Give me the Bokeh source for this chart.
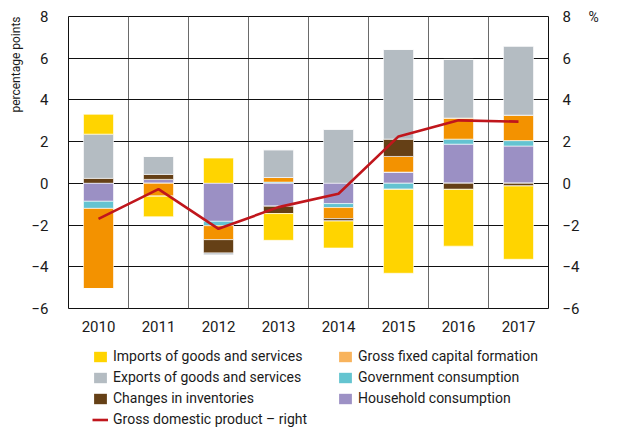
import numpy as np
from bokeh.plotting import figure
from bokeh.layouts import column
from bokeh.models import (ColumnDataSource, Range1d, LinearAxis, FixedTicker,
                          Legend, LegendItem, Title)
from bokeh.embed import file_html
from bokeh.resources import INLINE

# ---------------- data ----------------
years = [2010, 2011, 2012, 2013, 2014, 2015, 2016, 2017]
year_labels = ["2010", "2011", "2012", "2013", "2014", "2015", "2016", "2017"]

household = [-0.86, 0.19, -1.82, -1.10, -0.97, 0.54, 1.88, 1.79]
government = [-0.34, 0.00, -0.21, 0.06, -0.19, -0.29, 0.24, 0.26]
gfcf = [-3.85, -0.62, -0.67, 0.22, -0.53, 0.75, 1.01, 1.22]
inventories = [0.24, 0.24, -0.64, -0.35, -0.12, 0.83, -0.29, -0.13]
exports = [2.12, 0.86, -0.10, 1.33, 2.59, 4.30, 2.81, 3.31]
imports = [0.95, -0.98, 1.21, -1.28, -1.29, -4.02, -2.72, -3.51]
gdp = [-1.70, -0.28, -2.18, -1.14, -0.50, 2.25, 3.02, 2.96]

y_ticks = [-6, -4, -2, 0, 2, 4, 6, 8]
y_tick_labels = ["\u22126", "\u22124", "\u22122", "0", "2", "4", "6", "8"]

series_keys = ["household", "government", "gfcf", "inventories", "exports", "imports"]
series_vals = [household, government, gfcf, inventories, exports, imports]
series_labels = ["Household consumption", "Government consumption",
                 "Gross fixed capital formation", "Changes in inventories",
                 "Exports of goods and services", "Imports of goods and services"]
bar_colors = ["#9B90C4", "#64C3D1", "#F39200", "#654016", "#B4BCC2", "#FFD400"]
legend_colors = ["#9D91C5", "#64C4D0", "#F8B35C", "#654016", "#B4BCC2", "#FFD400"]
gdp_label = "Gross domestic product \u2013 right"
gdp_color = "#C0161C"
left_title = "percentage points"
right_unit = "%"

FONT = "Roboto"
TXT = "#1a1a1a"

# ---------------- sources ----------------
data = {"x": years, "gdp": gdp}
for k, v in zip(series_keys, series_vals):
    a = np.array(v, dtype=float)
    data[k + "_pos"] = np.clip(a, 0, None)
    data[k + "_neg"] = np.clip(a, None, 0)
src = ColumnDataSource(data)

x_lo, x_hi = years[0] - 0.5, years[-1] + 0.5

# ---------------- main figure ----------------
p = figure(width=604, height=340,
           x_range=Range1d(x_lo, x_hi),
           y_range=Range1d(y_ticks[0], y_ticks[-1]),
           output_backend="svg", toolbar_location=None,
           min_border_left=60, min_border_right=56,
           min_border_top=16, min_border_bottom=32)
p.extra_y_ranges = {"right": Range1d(y_ticks[0], y_ticks[-1])}

p.outline_line_color = "#111111"
p.outline_line_width = 1

p.vbar_stack([k + "_pos" for k in series_keys], x="x", width=0.5, source=src,
             fill_color=bar_colors, line_color="white", line_alpha=0.6, line_width=1)
p.vbar_stack([k + "_neg" for k in series_keys], x="x", width=0.5, source=src,
             fill_color=bar_colors, line_color="white", line_alpha=0.6, line_width=1)

p.line(x="x", y="gdp", source=src, y_range_name="right",
       line_color=gdp_color, line_width=2.6)

# grids
p.xgrid.ticker = FixedTicker(ticks=[y + 0.5 for y in years[:-1]])
p.xgrid.grid_line_color = "#6a6a6a"
p.ygrid.ticker = FixedTicker(ticks=y_ticks)
p.ygrid.grid_line_color = "#111111"

# axes
overrides = {t: s for t, s in zip(y_ticks, y_tick_labels)}
p.yaxis.ticker = FixedTicker(ticks=y_ticks)
p.yaxis.major_label_overrides = overrides
p.yaxis.major_label_standoff = 14
p.xaxis.ticker = FixedTicker(ticks=years)
p.xaxis.major_label_overrides = {y: s for y, s in zip(years, year_labels)}
p.xaxis.major_label_standoff = 6

raxis = LinearAxis(y_range_name="right", ticker=FixedTicker(ticks=y_ticks),
                   major_label_overrides=overrides)
p.add_layout(raxis, "right")

# unit "%" drawn as a one-tick axis outside the right axis
uaxis = LinearAxis(y_range_name="right", ticker=FixedTicker(ticks=[y_ticks[-1]]),
                   major_label_overrides={y_ticks[-1]: right_unit})
p.add_layout(uaxis, "right")

for ax in [p.xaxis[0], p.yaxis[0], raxis, uaxis]:
    ax.axis_line_color = None
    ax.major_tick_line_color = None
    ax.minor_tick_line_color = None
    ax.major_label_text_font = FONT
    ax.major_label_text_font_size = "15px"
    ax.major_label_text_color = TXT
raxis.major_label_standoff = 8
raxis.major_label_text_align = "right"
uaxis.major_label_standoff = 0
uaxis.major_label_text_font_size = "14px"

# left title (top aligned)
t = Title(text=left_title, align="right", text_font=FONT, text_font_size="12px",
          text_font_style="normal", text_color=TXT, standoff=12, offset=0)
p.add_layout(t, "left")

# ---------------- legend strip ----------------
lf = figure(width=604, height=88, x_range=Range1d(x_lo, x_hi), y_range=Range1d(100, 101),
            output_backend="svg", toolbar_location=None,
            x_axis_location=None, y_axis_location=None,
            min_border_left=60, min_border_right=56, min_border_top=0,
            min_border_bottom=0)
lf.outline_line_color = None
lf.xgrid.visible = False
lf.ygrid.visible = False

# legend carriers: same data, lying below this strip's visible y window
sw = {}
for k, c in zip(series_keys, legend_colors):
    sw[k] = lf.vbar(x="x", top=k + "_pos", source=src, width=0.5,
                    fill_color=c, line_color=None)
sw["gdp"] = lf.line(x="x", y="gdp", source=src, line_color=gdp_color, line_width=2.6)

lab = dict(zip(series_keys, series_labels))
lab["gdp"] = gdp_label
col1 = ["imports", "exports", "inventories", "gdp"]
col2 = ["gfcf", "government", "household"]

for keys, loc in [(col1, (24, 0)), (col2, (269, 21))]:
    lg = Legend(items=[LegendItem(label=lab[k], renderers=[sw[k]]) for k in keys],
                location=loc, orientation="vertical",
                padding=0, margin=0, spacing=3, label_height=18,
                glyph_width=16, glyph_height=13, label_standoff=5,
                label_text_font=FONT, label_text_font_size="14px",
                label_text_color=TXT,
                border_line_color=None, background_fill_alpha=0)
    lf.add_layout(lg, "center")

open("out.html", "w").write(file_html(column(p, lf, spacing=0), INLINE))
